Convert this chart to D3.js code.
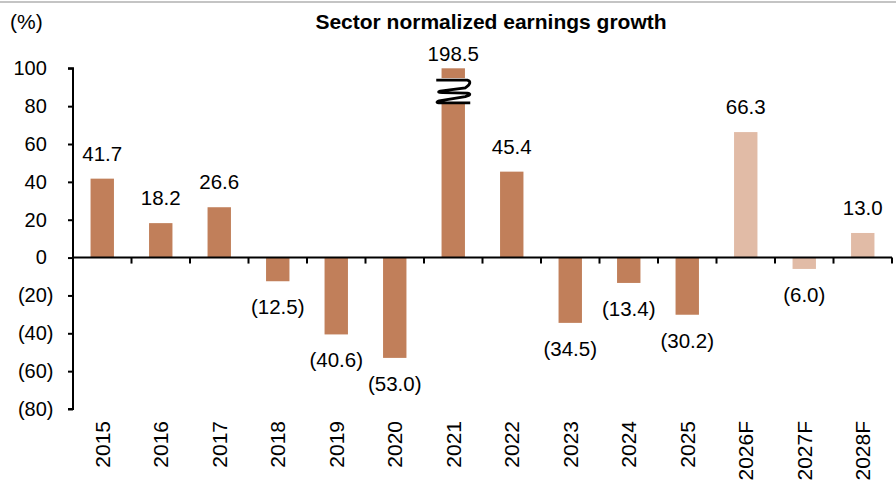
<!DOCTYPE html>
<html>
<head>
<meta charset="utf-8">
<script src="https://cdn.jsdelivr.net/npm/d3@7"></script>
<style>
  body { margin: 0; background: #fff; }
  svg { display: block; font-family: "Liberation Sans", Arial, sans-serif; }
</style>
</head>
<body>
<svg id="chart" width="896" height="480"></svg>
<script>
// Chart data
const years = ['2015', '2016', '2017', '2018', '2019', '2020', '2021', '2022', '2023', '2024', '2025', '2026F', '2027F', '2028F'];
const growth = [41.7, 18.2, 26.6, -12.5, -40.6, -53.0, 198.5, 45.4, -34.5, -13.4, -30.2, 66.3, -6.0, 13.0];
const isForecast = [false, false, false, false, false, false, false, false, false, false, false, true, true, true];
const yTicks = [100, 80, 60, 40, 20, 0, -20, -40, -60, -80];

const title = 'Sector normalized earnings growth';
const unitLabel = '(%)';

const colActual = '#c17f5a';
const colForecast = '#e1bba6';

const svg = d3.select('#chart');

// thin grey rule along the top
svg.append('line')
    .attr('x1', 0).attr('x2', 896)
    .attr('y1', 2).attr('y2', 2)
    .attr('stroke', '#c4c4c4')
    .attr('stroke-width', 2);

// Scales
const x = d3.scaleBand().domain(years).range([73, 892]);
const y = d3.scaleLinear().domain([-80, 100]).range([409, 68.3]);
const barW = x.bandwidth() * 0.4;
const fmt = v => v < 0 ? `(${d3.format('.1f')(-v)})` : d3.format('.1f')(v);

// Title and unit
svg.append('text')
    .attr('x', 491).attr('y', 29)
    .attr('text-anchor', 'middle')
    .attr('font-weight', 'bold')
    .attr('font-size', 21)
    .text(title);

svg.append('text')
    .attr('x', 10).attr('y', 29)
    .attr('font-size', 21)
    .text(unitLabel);

// Bars (2021 is cut at the top of the axis)
const data = years.map((yr, i) => ({ yr, v: growth[i], f: isForecast[i] }));

svg.append('g').selectAll('rect')
    .data(data)
    .enter().append('rect')
    .attr('x', d => x(d.yr) + (x.bandwidth() - barW) / 2)
    .attr('width', barW)
    .attr('y', d => y(Math.min(Math.max(d.v, 0), 100)))
    .attr('height', d => Math.abs(y(Math.min(d.v, 100)) - y(0)))
    .attr('fill', d => d.f ? colForecast : colActual);

// Axis break on the clipped bar
const big = data.find(d => d.v > 100);
const bx = x(big.yr) + x.bandwidth() / 2;
const breakTop = y(94.8), breakBot = y(81.2);
svg.append('rect')
    .attr('x', bx - barW / 2 - 1).attr('width', barW + 2)
    .attr('y', breakTop).attr('height', breakBot - breakTop)
    .attr('fill', '#fff');
const zig = d3.path();
const hw = 17, h = breakBot - breakTop;
zig.moveTo(bx - hw, breakTop + 2);
zig.lineTo(bx + hw - 3, breakTop + 2);
zig.quadraticCurveTo(bx + hw + 3, breakTop + 4, bx + hw - 5, breakTop + h * 0.38);
zig.lineTo(bx - hw + 4, breakTop + h * 0.5);
zig.quadraticCurveTo(bx - hw, breakTop + h * 0.56, bx - hw + 6, breakTop + h * 0.56);
zig.lineTo(bx + hw - 3, breakTop + h * 0.58);
zig.quadraticCurveTo(bx + hw + 3, breakTop + h * 0.62, bx + hw - 5, breakTop + h * 0.72);
zig.lineTo(bx - hw + 3, breakTop + h - 3);
zig.quadraticCurveTo(bx - hw - 2, breakTop + h - 1, bx - hw + 4, breakTop + h - 1);
zig.lineTo(bx + hw, breakTop + h - 1);
svg.append('path')
    .attr('d', zig.toString())
    .attr('fill', 'none')
    .attr('stroke', '#000')
    .attr('stroke-width', 2.8);

// Value labels
svg.append('g').selectAll('text')
    .data(data)
    .enter().append('text')
    .attr('x', d => x(d.yr) + x.bandwidth() / 2)
    .attr('y', d => {
        if (d.v > 100) return y(100) - 7;
        return d.v >= 0 ? y(d.v) - 18 : y(d.v) + 33;
    })
    .attr('text-anchor', 'middle')
    .attr('font-size', 20.5)
    .text(d => fmt(d.v));

// Y axis
const yAxis = svg.append('g')
    .attr('transform', 'translate(73,0)')
    .call(d3.axisLeft(y).tickValues(yTicks).tickSize(5).tickPadding(14.5)
        .tickFormat(v => v < 0 ? `(${-v})` : `${v}`));
yAxis.select('.domain').attr('stroke', '#000').attr('stroke-width', 2)
    .attr('d', `M-5,${y(100)}H0V${y(-80)}H-5`);
yAxis.selectAll('.tick line').attr('stroke', '#000').attr('stroke-width', 2);
yAxis.selectAll('.tick text')
    .attr('font-size', 20)
    .attr('font-family', null)
    .attr('fill', '#000')
    .attr('dx', v => v < 0 ? 0 : -6.7);

// X axis at zero with ticks on category boundaries
const xg = svg.append('g');
xg.append('line')
    .attr('x1', x.range()[0]).attr('x2', x.range()[1])
    .attr('y1', y(0)).attr('y2', y(0))
    .attr('stroke', '#000').attr('stroke-width', 2);
xg.selectAll('line.tk')
    .data(years.slice(1).concat(['__end']))
    .enter().append('line')
    .attr('class', 'tk')
    .attr('x1', d => d === '__end' ? x.range()[1] : x(d))
    .attr('x2', d => d === '__end' ? x.range()[1] : x(d))
    .attr('y1', y(0)).attr('y2', y(0) + 6)
    .attr('stroke', '#000').attr('stroke-width', 2);

// Category labels, rotated, below the plot
svg.append('g').selectAll('text')
    .data(years)
    .enter().append('text')
    .attr('transform', d => `translate(${x(d) + x.bandwidth() / 2},421) rotate(-90)`)
    .attr('dy', '0.35em')
    .attr('text-anchor', 'end')
    .attr('font-size', 21)
    .text(d => d);
</script>
</body>
</html>
